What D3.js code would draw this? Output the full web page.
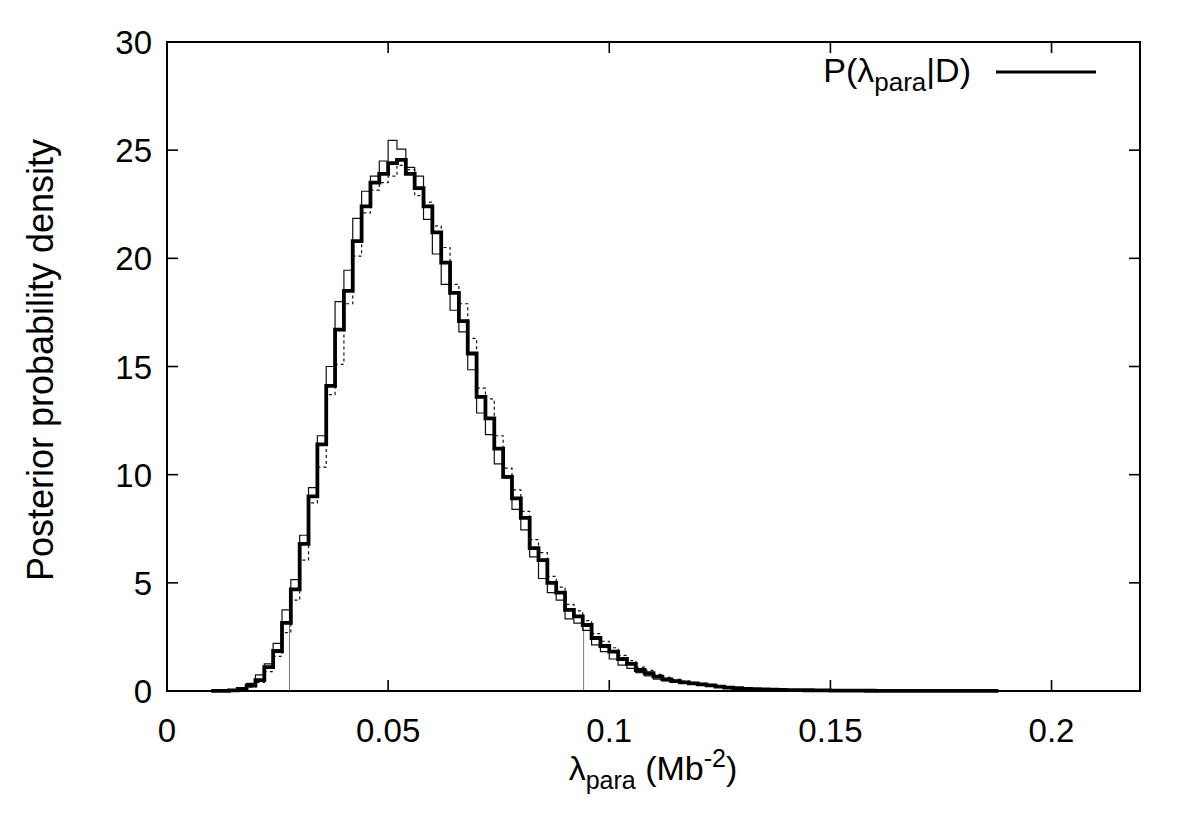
<!DOCTYPE html>
<html>
<head>
<meta charset="utf-8">
<script src="https://cdn.jsdelivr.net/npm/d3@7"></script>
<style>
  body { margin: 0; background: #fff; }
  text { font-family: "Liberation Sans", Arial, sans-serif; fill: #000; }
</style>
</head>
<body>
<div id="chart"></div>
<script>

// left edge of every histogram bin (bin width 0.002)
var binLeft = [
  0.010, 0.012, 0.014, 0.016, 0.018, 0.020, 0.022, 0.024, 0.026, 0.028,
  0.030, 0.032, 0.034, 0.036, 0.038, 0.040, 0.042, 0.044, 0.046, 0.048,
  0.050, 0.052, 0.054, 0.056, 0.058, 0.060, 0.062, 0.064, 0.066, 0.068,
  0.070, 0.072, 0.074, 0.076, 0.078, 0.080, 0.082, 0.084, 0.086, 0.088,
  0.090, 0.092, 0.094, 0.096, 0.098, 0.100, 0.102, 0.104, 0.106, 0.108,
  0.110, 0.112, 0.114, 0.116, 0.118, 0.120, 0.122, 0.124, 0.126, 0.128,
  0.130, 0.132, 0.134, 0.136, 0.138, 0.140, 0.142, 0.144, 0.146, 0.148,
  0.150, 0.152, 0.154, 0.156, 0.158, 0.160, 0.162, 0.164, 0.166, 0.168,
  0.170, 0.172, 0.174, 0.176, 0.178, 0.180, 0.182, 0.184, 0.186
];
var binRight = 0.188;

// combined posterior (thick line)
var posterior = [
  0.005, 0.01, 0.03, 0.1, 0.25, 0.5, 1.1, 1.85, 3.15, 4.7,
  6.8, 9.0, 11.4, 14.1, 16.7, 18.5, 20.8, 22.4, 23.5, 23.9,
  24.4, 24.55, 23.9, 23.25, 22.4, 21.2, 19.8, 18.4, 17.1, 15.6,
  13.6, 12.6, 11.2, 9.9, 8.9, 8.0, 6.6, 6.05, 5.0, 4.55,
  3.75, 3.45, 3.05, 2.45, 2.08, 1.82, 1.48, 1.25, 0.97, 0.82,
  0.66, 0.54, 0.46, 0.40, 0.35, 0.31, 0.26, 0.20, 0.16, 0.13,
  0.10, 0.08, 0.07, 0.06, 0.05, 0.045, 0.04, 0.035, 0.03, 0.025,
  0.02, 0.02, 0.018, 0.015, 0.012, 0.01, 0.01, 0.008, 0.007, 0.006,
  0.005, 0.005, 0.004, 0.004, 0.003, 0.003, 0.002, 0.002, 0.002
];

// individual runs (thin solid and dotted)
var runA = [
  0.005, 0.015, 0.04, 0.13, 0.35, 0.75, 1.25, 2.2, 3.75, 5.15,
  7.2, 9.4, 11.8, 15.0, 18.0, 19.45, 21.85, 23.1, 23.8, 24.5,
  25.45, 25.05, 24.2, 23.8, 21.8, 20.2, 18.8, 17.6, 16.6, 14.85,
  12.85, 11.85, 10.5, 9.85, 8.4, 7.45, 6.2, 5.2, 4.55, 4.2,
  3.33, 3.14, 2.8, 2.13, 1.82, 1.48, 1.2, 1.05, 0.85, 0.7,
  0.55, 0.47, 0.40, 0.35, 0.30, 0.26, 0.22, 0.17, 0.14, 0.11,
  0.09, 0.07, 0.06, 0.05, 0.045, 0.04, 0.035, 0.03, 0.027, 0.022,
  0.018, 0.016, 0.014, 0.012, 0.01, 0.009, 0.008, 0.007, 0.006, 0.005,
  0.005, 0.004, 0.003, 0.003, 0.003, 0.002, 0.002, 0.002, 0.001
];
var runB = [
  0.003, 0.008, 0.02, 0.07, 0.18, 0.4, 0.9, 1.6, 2.7, 4.2,
  6.05, 8.7, 10.35, 13.7, 15.1, 17.9, 20.1, 22.1, 23.15, 23.5,
  23.8, 24.3, 24.1, 22.9, 22.6, 21.5, 20.5, 18.8, 17.9, 16.3,
  14.0, 13.5, 11.8, 10.3, 9.3, 8.3, 7.0, 6.4, 5.3, 4.8,
  4.0, 3.7, 3.25, 2.65, 2.3, 2.0, 1.65, 1.4, 1.1, 0.95,
  0.77, 0.63, 0.54, 0.46, 0.40, 0.35, 0.30, 0.24, 0.19, 0.15,
  0.12, 0.10, 0.085, 0.07, 0.06, 0.05, 0.045, 0.04, 0.035, 0.03,
  0.025, 0.022, 0.02, 0.017, 0.014, 0.012, 0.011, 0.009, 0.008, 0.007,
  0.006, 0.005, 0.005, 0.004, 0.004, 0.003, 0.003, 0.002, 0.002
];

// credible interval bounds and the density height there
var intervalX = [0.0277, 0.0942];
var intervalY = [3.15, 3.0];

var xTicks = [0, 0.05, 0.1, 0.15, 0.2];
var yTicks = [0, 5, 10, 15, 20, 25, 30];

var width = 1200, height = 840;
var plotL = 167, plotR = 1140, plotT = 42, plotB = 691;
var tickLen = 11;

var svg = d3.select("#chart").append("svg")
  .attr("width", width)
  .attr("height", height);

var x = d3.scaleLinear().domain([0, 0.22]).range([plotL, plotR]);
var y = d3.scaleLinear().domain([0, 30]).range([plotB, plotT]);

function stepPoints(values) {
  var pts = binLeft.map(function (b, i) { return [b, values[i]]; });
  pts.push([binRight, values[values.length - 1]]);
  return pts;
}

var line = d3.line()
  .x(function (d) { return x(d[0]); })
  .y(function (d) { return y(d[1]); })
  .curve(d3.curveStepAfter);

// credible interval markers
svg.selectAll(".ci").data(intervalX).enter().append("line")
  .attr("x1", function (d) { return x(d); })
  .attr("x2", function (d) { return x(d); })
  .attr("y1", y(0))
  .attr("y2", function (d, i) { return y(intervalY[i]); })
  .style("stroke", "#777")
  .style("stroke-width", 1);

svg.append("path")
  .datum(stepPoints(runB))
  .attr("d", line)
  .style("fill", "none")
  .style("stroke", "#111")
  .style("stroke-width", 1.2)
  .style("stroke-dasharray", "3,3");

svg.append("path")
  .datum(stepPoints(runA))
  .attr("d", line)
  .style("fill", "none")
  .style("stroke", "#111")
  .style("stroke-width", 1.2);

svg.append("path")
  .datum(stepPoints(posterior))
  .attr("d", line)
  .style("fill", "none")
  .style("stroke", "#000")
  .style("stroke-width", 3.8);

// frame
svg.append("rect")
  .attr("x", plotL).attr("y", plotT)
  .attr("width", plotR - plotL).attr("height", plotB - plotT)
  .style("fill", "none")
  .style("stroke", "#000")
  .style("stroke-width", 2);

// ticks on all four sides, pointing inwards
var ax = svg.append("g").attr("class", "ticks").style("stroke", "#000").style("stroke-width", 1.6);
xTicks.forEach(function (t) {
  ax.append("line").attr("x1", x(t)).attr("x2", x(t)).attr("y1", plotB).attr("y2", plotB - tickLen);
  ax.append("line").attr("x1", x(t)).attr("x2", x(t)).attr("y1", plotT).attr("y2", plotT + tickLen);
});
yTicks.forEach(function (t) {
  ax.append("line").attr("x1", plotL).attr("x2", plotL + tickLen).attr("y1", y(t)).attr("y2", y(t));
  ax.append("line").attr("x1", plotR).attr("x2", plotR - tickLen).attr("y1", y(t)).attr("y2", y(t));
});

svg.selectAll(".xlab").data(xTicks).enter().append("text")
  .attr("x", function (d) { return x(d); })
  .attr("y", 742)
  .style("font-size", "33px")
  .style("text-anchor", "middle")
  .text(function (d) { return d; });

svg.selectAll(".ylab").data(yTicks).enter().append("text")
  .attr("x", 152)
  .attr("y", function (d) { return y(d) + 12; })
  .style("font-size", "33px")
  .style("text-anchor", "end")
  .text(function (d) { return d; });

svg.append("text")
  .attr("transform", "translate(53,360) rotate(-90)")
  .style("font-size", "36px")
  .style("text-anchor", "middle")
  .text("Posterior probability density");

var xl = svg.append("text")
  .attr("x", 653)
  .attr("y", 780)
  .style("font-size", "34px")
  .style("text-anchor", "middle");
xl.append("tspan").text("λ");
xl.append("tspan").attr("dy", 9).style("font-size", "25px").text("para");
xl.append("tspan").attr("dy", -9).text(" (Mb");
xl.append("tspan").attr("dy", -13).style("font-size", "25px").text("-2");
xl.append("tspan").attr("dy", 13).text(")");

// legend
var lg = svg.append("text")
  .attr("x", 971)
  .attr("y", 82)
  .style("font-size", "34px")
  .style("text-anchor", "end");
lg.append("tspan").text("P(λ");
lg.append("tspan").attr("dy", 9).style("font-size", "26px").text("para");
lg.append("tspan").attr("dy", -9).text("|D)");

svg.append("line")
  .attr("x1", 996).attr("x2", 1096)
  .attr("y1", 72).attr("y2", 72)
  .style("stroke", "#000")
  .style("stroke-width", 3);

</script>
</body>
</html>
